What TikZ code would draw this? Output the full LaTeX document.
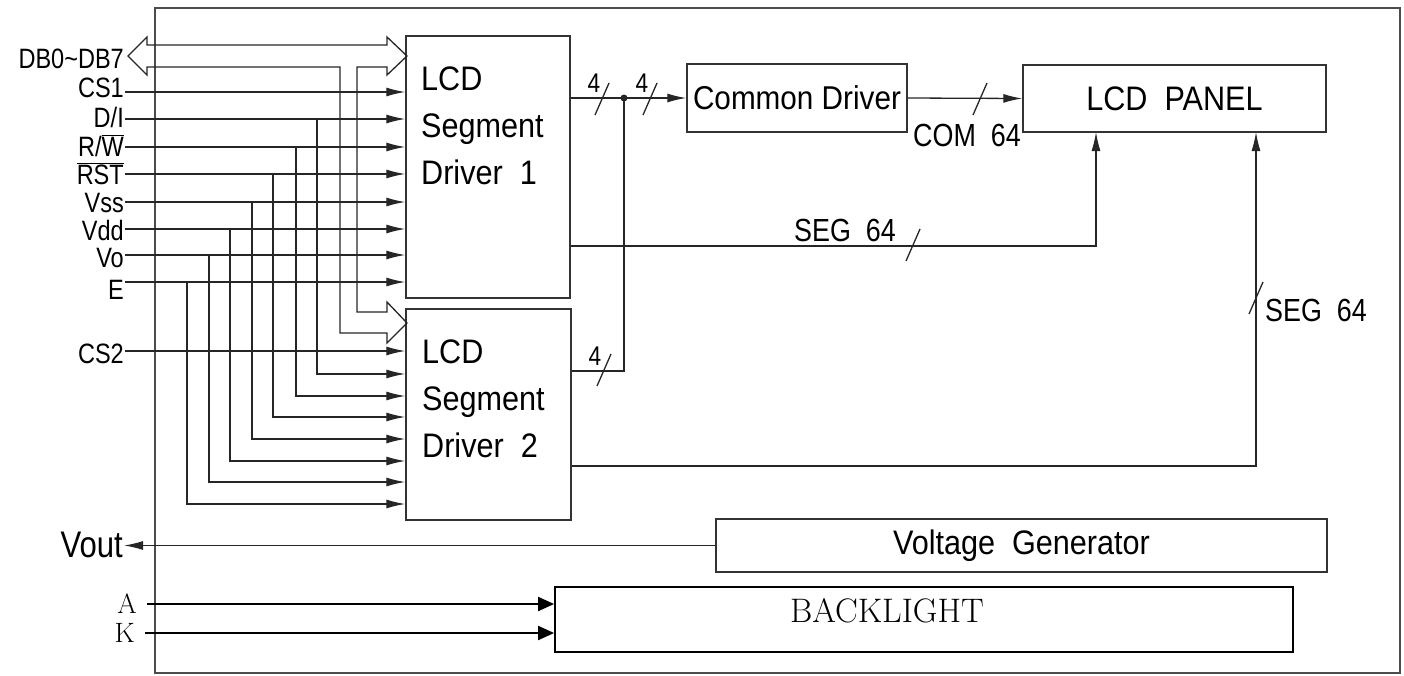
\documentclass[tikz,border=0pt]{standalone}
\usepackage{fontspec}
\newfontfamily\cadfont{Liberation Sans}[FakeStretch=0.9]
\newfontfamily\pinfont{Liberation Sans}[FakeStretch=0.84]
\usetikzlibrary{arrows.meta}
\tikzstyle{blk} = [rectangle, draw=black!80, line width=1.4pt, inner sep=0pt]
\tikzstyle{btxt} = [font=\cadfont\fontsize{34}{47}\selectfont]
\tikzstyle{wire} = [line width=1.3pt, draw=black!85]
\tikzstyle{sig} = [wire, -{Latex[length=19pt,width=9pt]}]
\tikzstyle{bsig} = [line width=2pt, -{Triangle[length=16pt,width=14pt]}]
\tikzstyle{pin} = [font=\pinfont\fontsize{28}{28}\selectfont, anchor=east,
    inner xsep=1pt, inner ysep=0pt, text height=20pt, text depth=0pt]
\tikzstyle{cnt} = [font=\pinfont\fontsize{27}{27}\selectfont, inner sep=0pt]
\tikzstyle{lbl} = [font=\pinfont\fontsize{32}{32}\selectfont, inner sep=0pt]
\newcommand{\bmark}[1]{\draw[wire] (#1) ++(-7,16) -- ++(14,-32);}

\begin{document}
\begin{tikzpicture}[x=1pt, y=-1pt]
\useasboundingbox (0,0) rectangle (1404,675);
\draw[line width=1.4pt, black!70] (155,8) rectangle (1400,673);

% blocks
\node (drvA) [blk, minimum width=164pt, minimum height=262pt] at (488,167) {};
\node (drvB) [blk, minimum width=165pt, minimum height=211pt] at (488.5,414.5) {};
\node (cdrv) [blk, btxt, font=\cadfont\fontsize{33}{33}\selectfont, minimum width=220pt, minimum height=68pt] at (797,98) {Common Driver};
\node (panel) [blk, btxt, minimum width=303pt, minimum height=67pt] at (1174.5,98.5) {LCD\ \ PANEL};
\node (vgen) [blk, btxt, minimum width=611pt, minimum height=53pt] at (1021.5,545.5) {Voltage\ \ Generator};
\node (blt) [blk, draw=black, line width=1.8pt, minimum width=738pt, minimum height=65pt] at (924,619.5) {};
\node (drvAtxt) [btxt, anchor=north west, align=left, inner sep=0pt] at (421,67) {LCD\\Segment\\Driver\ \ 1};
\node (drvBtxt) [btxt, anchor=north west, align=left, inner sep=0pt] at (422,340) {LCD\\Segment\\Driver\ \ 2};
\node (blttxt) [font=\fontsize{34}{34}\selectfont] at (887,611) {BACKLIGHT};

% pins
\node (db) [pin] at (125,58) {DB0\textasciitilde DB7};
\node (cs1) [pin] at (125,87) {CS1};
\node (di) [pin] at (125,117) {D/I};
\node (rw) [pin] at (125,146) {R/$\overline{\hbox{W}}$};
\node (rst) [pin] at (125,174) {$\overline{\hbox{RST}}$};
\node (vss) [pin] at (125,202) {Vss};
\node (vdd) [pin] at (125,230) {Vdd};
\node (vo) [pin] at (125,257) {Vo};
\node (e) [pin] at (125,289) {E};
\node (cs2) [pin] at (125,353) {CS2};
\node (vout) [pin, font=\pinfont\fontsize{37}{37}\selectfont, text height=26pt] at (124,544) {Vout};
\node (a) [anchor=east, font=\fontsize{28}{28}\selectfont, inner xsep=10pt, inner ysep=0pt,
    text height=19pt, text depth=0pt] at (147,604) {A};
\node (k) [anchor=east, font=\fontsize{28}{28}\selectfont, inner xsep=10pt, inner ysep=0pt,
    text height=19pt, text depth=0pt] at (145,633) {K};

% data bus
\draw[wire] (128,56) -- (147,37) -- (147,45) -- (387,45) -- (387,37) -- (407,56)
    -- (387,75) -- (387,67) -- (357,67) -- (357,312) -- (387,312) -- (387,302)
    -- (407,323) -- (387,343) -- (387,333) -- (340,333) -- (340,67) -- (147,67)
    -- (147,75) -- cycle;

% control lines
\foreach \p/\y in {cs1/92, di/119, rw/147, rst/174, vss/202, vdd/229, vo/255, e/282}
  \draw[sig] (\p.east |- 0,\y) -- (drvA.west |- 0,\y);
\foreach \y/\xv/\yb in {119/317/374, 147/296/396, 174/273/417, 202/252/439, 229/230/461, 255/209/482, 282/187/504}
  \draw[sig] (\xv,\y) |- (drvB.west |- 0,\yb);
\draw[sig] (cs2.east |- 0,351) -- (drvB.west |- 0,351);

% outputs
\coordinate (jn) at (624,98);
\coordinate (pA) at (1096,132);
\coordinate (pB) at (1256,132);
\draw[wire] (drvA.east |- jn) -- (jn);
\fill[black!85] (jn) circle (3.5);
\draw[sig] (jn) -- (cdrv.west);
\draw[wire] (drvB.east |- 0,371) -| (jn);
\draw[sig] (cdrv.east) -- (panel.west);
\draw[sig] (drvA.east |- 0,246) -| (pA);
\draw[sig] (drvB.east |- 0,466) -| (pB);
\draw[sig] (vgen.west) -- (vout.east |- vgen.west);
\draw[bsig] (a.east) -- (a.east -| blt.west);
\draw[bsig] (k.east) -- (k.east -| blt.west);

% bus widths
\bmark{602,99}
\bmark{650,99}
\bmark{604,370}
\bmark{980,99}
\bmark{913,245}
\bmark{1256,298}
\node (n4a) [cnt] at (594,83) {4};
\node (n4b) [cnt] at (642,83) {4};
\node (n4c) [cnt] at (595,356) {4};
\node (com) [lbl] at (967,135) {COM\ \ 64};
\node (segA) [lbl] at (845,230) {SEG\ \ 64};
\node (segB) [lbl, anchor=west] at (1265,310) {SEG\ \ 64};
\end{tikzpicture}
\end{document}
